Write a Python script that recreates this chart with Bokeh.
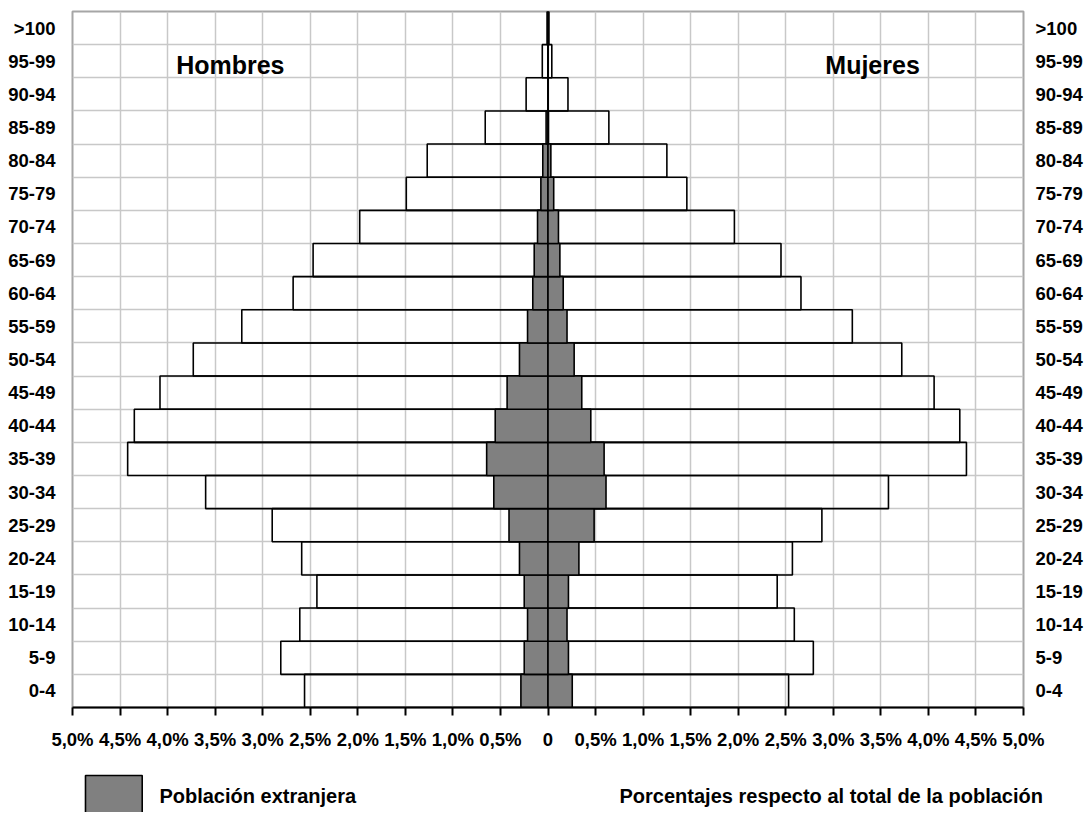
from bokeh.plotting import figure
from bokeh.models import Range1d, FixedTicker, LinearAxis, Label
from bokeh.layouts import column, row
from bokeh.embed import file_html
from bokeh.resources import INLINE

# Age groups, bottom to top
ages = ["0-4", "5-9", "10-14", "15-19", "20-24", "25-29", "30-34", "35-39",
        "40-44", "45-49", "50-54", "55-59", "60-64", "65-69", "70-74",
        "75-79", "80-84", "85-89", "90-94", "95-99", ">100"]

# Percent of total population
male_total = [2.56, 2.81, 2.61, 2.43, 2.59, 2.90, 3.60, 4.42, 4.35, 4.08, 3.73,
              3.22, 2.68, 2.47, 1.98, 1.49, 1.27, 0.66, 0.23, 0.06, 0.01]
female_total = [2.53, 2.79, 2.59, 2.41, 2.57, 2.88, 3.58, 4.40, 4.33, 4.06, 3.72,
                3.20, 2.66, 2.45, 1.96, 1.46, 1.25, 0.64, 0.21, 0.04, 0.01]
male_foreign = [0.285, 0.25, 0.215, 0.25, 0.30, 0.41, 0.57, 0.645, 0.555, 0.43, 0.30,
                0.215, 0.16, 0.145, 0.11, 0.075, 0.055, 0.02, 0.0, 0.0, 0.0]
female_foreign = [0.255, 0.215, 0.20, 0.215, 0.325, 0.485, 0.61, 0.59, 0.45, 0.355, 0.275,
                  0.20, 0.16, 0.125, 0.11, 0.06, 0.03, 0.005, 0.0, 0.0, 0.0]

x_ticks = [-5.0, -4.5, -4.0, -3.5, -3.0, -2.5, -2.0, -1.5, -1.0, -0.5, 0.0,
           0.5, 1.0, 1.5, 2.0, 2.5, 3.0, 3.5, 4.0, 4.5, 5.0]
x_tick_labels = ["5,0%", "4,5%", "4,0%", "3,5%", "3,0%", "2,5%", "2,0%", "1,5%", "1,0%", "0,5%", "0",
                 "0,5%", "1,0%", "1,5%", "2,0%", "2,5%", "3,0%", "3,5%", "4,0%", "4,5%", "5,0%"]

FONT = "Liberation Sans"
W = 1085
BL, BR = 72, 58
n = len(ages)
ymid = [i + 0.5 for i in range(n)]

p = figure(width=W, height=767, x_range=Range1d(-5, 5), y_range=Range1d(0, n),
           output_backend="svg", toolbar_location=None,
           min_border_left=BL, min_border_right=BR, min_border_top=11, min_border_bottom=60)
p.background_fill_color = "white"
p.border_fill_color = "white"
p.outline_line_color = "#a6a6a6"
p.outline_line_width = 2

# grids
p.xgrid.ticker = FixedTicker(ticks=x_ticks)
p.ygrid.ticker = FixedTicker(ticks=list(range(n + 1)))
for g in (p.xgrid, p.ygrid):
    g.grid_line_color = "#c8c8c8"
    g.grid_line_width = 1.5

# bottom axis
xa = p.xaxis[0]
xa.ticker = FixedTicker(ticks=x_ticks)
xa.major_label_overrides = {t: l for t, l in zip(x_ticks, x_tick_labels)}
xa.axis_line_color = "black"
xa.axis_line_width = 2
xa.major_tick_line_color = "black"
xa.major_tick_line_width = 2
xa.major_tick_out = 8
xa.major_tick_in = 0
xa.minor_tick_line_color = None
xa.major_label_text_font = FONT
xa.major_label_text_font_style = "bold"
xa.major_label_text_font_size = "18.5px"
xa.major_label_text_color = "black"
xa.major_label_standoff = 13

# left and right axes
ya = p.yaxis[0]
ya_r = LinearAxis()
p.add_layout(ya_r, "right")
for ax, so in ((ya, 17), (ya_r, 12)):
    ax.ticker = FixedTicker(ticks=ymid)
    ax.major_label_overrides = {m: a for m, a in zip(ymid, ages)}
    ax.axis_line_color = None
    ax.major_tick_line_color = None
    ax.minor_tick_line_color = None
    ax.major_tick_out = 0
    ax.major_tick_in = 0
    ax.major_label_standoff = so
    ax.major_label_text_font = FONT
    ax.major_label_text_font_style = "bold"
    ax.major_label_text_font_size = "18.5px"
    ax.major_label_text_color = "black"

# total population bars (outline only)
p.hbar(y=ymid, height=1, left=[-v for v in male_total], right=0,
       fill_color=None, line_color="black", line_width=1.6)
p.hbar(y=ymid, height=1, left=0, right=female_total,
       fill_color=None, line_color="black", line_width=1.6)
# foreign population bars
p.hbar(y=ymid, height=1, left=[-v for v in male_foreign], right=0,
       fill_color="#808080", line_color="black", line_width=1.6)
p.hbar(y=ymid, height=1, left=0, right=female_foreign,
       fill_color="#808080", line_color="black", line_width=1.6)

# side titles
p.add_layout(Label(x=-3.91, y=19.39, text="Hombres", text_font=FONT, text_font_style="bold",
                   text_font_size="25px", text_baseline="middle", text_align="left", text_color="black"))
p.add_layout(Label(x=2.916, y=19.39, text="Mujeres", text_font=FONT, text_font_style="bold",
                   text_font_size="25px", text_baseline="middle", text_align="left", text_color="black"))

# legend strip below the chart: full-width frame, same horizontal scale as the main frame
scale = (W - BL - BR) / 10.0
p2 = figure(width=W, height=45, x_range=Range1d(-5 - BL / scale, 5 + BR / scale), y_range=Range1d(0, 45),
            output_backend="svg", toolbar_location=None,
            x_axis_location=None, y_axis_location=None,
            min_border_left=0, min_border_right=0, min_border_top=0, min_border_bottom=0)
p2.grid.visible = False
p2.outline_line_color = None
p2.background_fill_color = "white"
p2.border_fill_color = "white"
p2.quad(left=[-4.864], right=[-4.27], top=[37], bottom=[-10],
        fill_color="#808080", line_color="black", line_width=1.6)
p2.add_layout(Label(x=-4.09, y=17, text="Población extranjera", text_font=FONT, text_font_style="bold",
                    text_font_size="20px", text_baseline="middle", text_align="left", text_color="black"))
p2.add_layout(Label(x=0.728, y=17, text="Porcentajes respecto al total de la población", text_font=FONT,
                    text_font_style="bold", text_font_size="20px", text_baseline="middle", text_align="left",
                    text_color="black"))

layout = column(p, row(p2), spacing=0)
open("out.html", "w").write(file_html(layout, INLINE))
